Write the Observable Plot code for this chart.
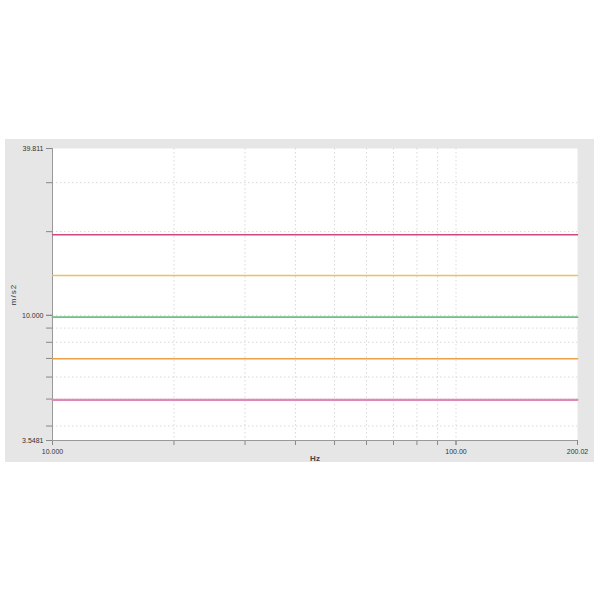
<!DOCTYPE html>
<html>
<head>
<meta charset="utf-8">
<script src="https://cdn.jsdelivr.net/npm/d3@7"></script>
<script src="https://cdn.jsdelivr.net/npm/@observablehq/plot@0.6"></script>
<style>
  html, body { margin: 0; padding: 0; background: #ffffff; }
  #wrap { position: relative; width: 600px; height: 600px; }
  #panel { position: absolute; left: 5px; top: 139px; width: 589px; height: 323px; background: #e6e6e6; }
  #chart { position: absolute; left: 0; top: 0; }
  #chart svg { background: transparent !important; }
</style>
</head>
<body>
<div id="wrap"><div id="panel"></div><div id="chart"></div></div>
<script>
// Data
const freqRange = [10, 200.02];
const levels = [19.5, 13.9, 9.85, 6.98, 4.97];
const levelColors = ["#d0467f", "#ecc060", "#6cc080", "#eca048", "#dc88b8"];
const levelWidths = [1.5, 1.5, 1.8, 1.5, 2.2];
const yDomain = [3.5481, 39.811];
const yLabelTicks = [3.5481, 10, 39.811];
const yLabelText = ["3.5481", "10.000", "39.811"];
const yMinorTicks = [4, 5, 6, 7, 8, 9, 10, 20, 30];
const xLabelTicks = [10, 100, 200.02];
const xLabelText = ["10.000", "100.00", "200.02"];
const xMinorTicks = [20, 30, 40, 50, 60, 70, 80, 90, 100];

const lineData = [];
levels.forEach((v, i) => freqRange.forEach(f => lineData.push({series: i, f, v})));

const chart = Plot.plot({
  width: 600,
  height: 600,
  marginLeft: 52,
  marginRight: 23,
  marginTop: 148,
  marginBottom: 160,
  style: {fontFamily: "Liberation Sans, Arial, sans-serif", fontSize: "7px", color: "#333", background: "transparent"},
  x: {type: "log", domain: freqRange},
  y: {type: "log", domain: yDomain},
  marks: [
    Plot.frame({fill: "white", stroke: null}),
    Plot.gridY(yMinorTicks, {stroke: "#cfcfcf", strokeOpacity: 1, strokeWidth: 0.8, strokeDasharray: "1.5,2.5"}),
    Plot.gridX(xMinorTicks, {stroke: "#cfcfcf", strokeOpacity: 1, strokeWidth: 0.8, strokeDasharray: "1.5,2.5"}),
    Plot.axisY(yMinorTicks, {tickSize: 6, tickFormat: () => "", stroke: "#888", label: null}),
    Plot.axisY(yLabelTicks, {tickSize: 6, tickPadding: 3, stroke: "#888",
      tickFormat: d => yLabelText[yLabelTicks.indexOf(d)],
      label: "m/s2", labelAnchor: "center", labelArrow: "none", labelOffset: 42}),
    Plot.axisX(xMinorTicks, {tickSize: 5, tickFormat: () => "", stroke: "#888", label: null}),
    Plot.axisX(xLabelTicks, {tickSize: 5, tickPadding: 4, stroke: "#888",
      tickFormat: d => xLabelText[xLabelTicks.indexOf(d)],
      label: "Hz", labelAnchor: "center", labelArrow: "none", labelOffset: 20}),
    Plot.ruleX([freqRange[0]], {stroke: "#999", strokeWidth: 1}),
    Plot.ruleY([yDomain[0]], {stroke: "#999", strokeWidth: 1}),
    ...levels.map((v, i) => Plot.line(lineData.filter(d => d.series === i), {
      x: "f", y: "v", stroke: levelColors[i], strokeWidth: levelWidths[i]
    }))
  ]
});
document.getElementById("chart").appendChild(chart);
chart.querySelectorAll("[aria-label='x-axis label'] text").forEach(t => {
  t.setAttribute("font-weight", "bold");
  t.setAttribute("font-size", "8px");
  t.setAttribute("fill", "#444");
});
chart.querySelectorAll("[aria-label='y-axis label'] text").forEach(t => {
  t.setAttribute("font-size", "8px");
  t.setAttribute("letter-spacing", "1px");
});
</script>
</body>
</html>
